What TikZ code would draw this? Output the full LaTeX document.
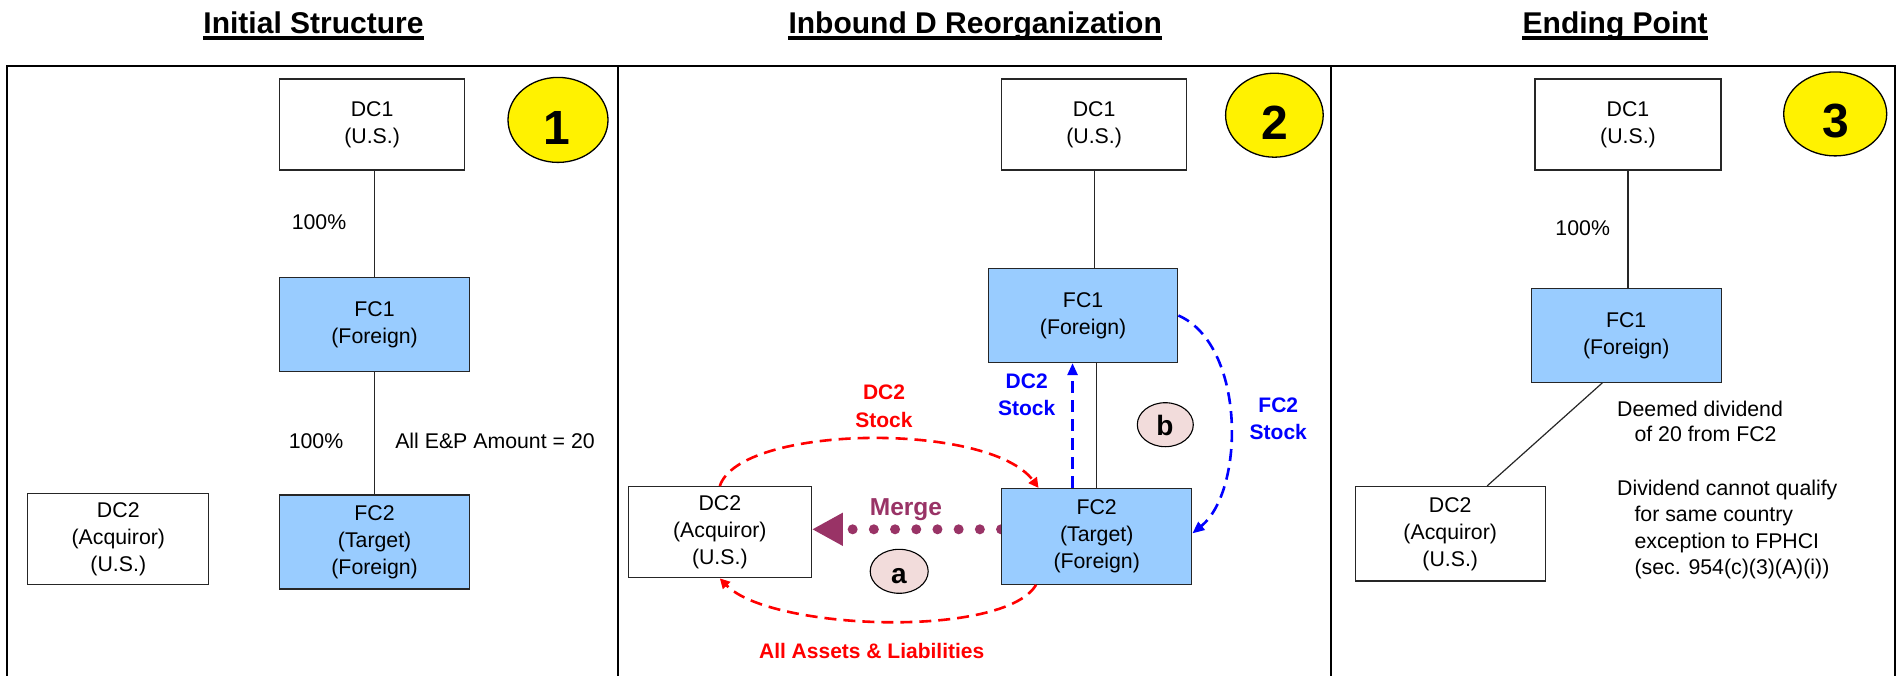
\documentclass[tikz,border=0pt]{standalone}
\usepackage{fontspec}
\setmainfont{Liberation Sans}
\usetikzlibrary{arrows.meta,calc,shapes.geometric}
\pgfdeclarelayer{background}
\pgfsetlayers{background,main}
\definecolor{boxblue}{RGB}{153,204,255}
\definecolor{mergepurple}{RGB}{153,51,102}
\definecolor{pinkfill}{RGB}{242,220,219}
\definecolor{redarrow}{RGB}{255,0,0}
\definecolor{bluearrow}{RGB}{0,0,255}
\begin{document}
\begin{tikzpicture}[x=0.5pt,y=-0.5pt,
  bodyfont/.style={font=\fontsize{10.65pt}{13.5pt}\selectfont},
  entity/.style={draw=black!85, line width=0.65pt, fill=white, inner sep=0pt, align=center, bodyfont},
  foreign/.style={entity, fill=boxblue},
  stepcircle/.style={ellipse, draw=black, line width=0.65pt, fill=yellow, inner sep=0pt},
  stepnum/.style={font=\fontsize{24pt}{24pt}\selectfont\bfseries, inner sep=0pt},
  subcircle/.style={ellipse, draw=black, line width=0.55pt, fill=pinkfill, inner sep=0pt},
  subnum/.style={font=\fontsize{14pt}{14pt}\selectfont\bfseries, inner sep=0pt},
  paneltitle/.style={font=\fontsize{15pt}{18pt}\selectfont\bfseries, inner sep=0pt, anchor=base},
  note/.style={bodyfont, inner sep=0pt},
  own/.style={line width=0.6pt, draw=black!85},
  panelframe/.style={line width=1pt, draw=black},
  redflow/.style={draw=redarrow, line width=1.3pt, dash pattern=on 6pt off 3.5pt, -{Triangle[length=5pt,width=5pt]}},
  blueflow/.style={draw=bluearrow, line width=1.3pt, dash pattern=on 6pt off 3.5pt, -{Triangle[length=6pt,width=5pt]}},
  mergeflow/.style={draw=mergepurple, line width=5pt, line cap=round, dash pattern=on 0pt off 10.6pt, -{Triangle[length=15.5pt,width=15.5pt]}},
  redlabel/.style={font=\fontsize{10.5pt}{14pt}\selectfont\bfseries, text=redarrow, align=center, inner sep=0pt},
  bluelabel/.style={font=\fontsize{10.5pt}{13.3pt}\selectfont\bfseries, text=bluearrow, align=center, inner sep=0pt},
]
\useasboundingbox (0,0) rectangle (1896,675);
% frame
\draw[panelframe] (6.7,680) -- (6.7,66) -- (1894.5,66) -- (1894.5,680);
\draw[panelframe] (618.3,66) -- (618.3,680);
\draw[panelframe] (1331,66) -- (1331,680);
% titles
\node[paneltitle] (t1) at (313.5,33.6) {Initial Structure};
\node[paneltitle] (t2) at (975.2,33.6) {Inbound D Reorganization};
\node[paneltitle] (t3) at (1615.2,33.6) {Ending Point};
\foreach \t in {t1,t2,t3} \draw[line width=1.7pt] ($(\t.base west)+(0,4.3)$) -- ($(\t.base east)+(0,4.3)$);

% ---------- panel 1
\node[entity, minimum width=92.5pt, minimum height=45.5pt] (p1dc1) at (372.1,124.6) {DC1\\(U.S.)};
\node[foreign, minimum width=95pt, minimum height=47pt] (p1fc1) at (374.6,324.6) {FC1\\(Foreign)};
\node[foreign, minimum width=95pt, minimum height=47pt] (p1fc2) at (374.6,542) {FC2\\(Target)\\(Foreign)};
\node[entity, minimum width=90.5pt, minimum height=45.5pt] (p1dc2) at (118.3,538.8) {DC2\\(Acquiror)\\(U.S.)};
\node[stepcircle, minimum width=50pt, minimum height=42.5pt] (p1c) at (558,119.9) {};
\node[stepnum] (p1n) at (556.5,127.6) {1};
\node[note] (p1o1) at (319,222) {100\%};
\node[note] (p1o2) at (316,441) {100\%};
\node[note] (p1ep) at (495,441) {All E\&P Amount = 20};
\draw[own] (p1fc1.north |- p1dc1.south) -- (p1fc1.north);
\draw[own] (p1fc1.south) -- (p1fc2.north);

% ---------- panel 2
\node[entity, minimum width=92.3pt, minimum height=45.5pt] (p2dc1) at (1094.1,124.6) {DC1\\(U.S.)};
\node[foreign, minimum width=94.7pt, minimum height=47pt] (p2fc1) at (1083.1,315.5) {FC1\\(Foreign)};
\node[foreign, minimum width=95pt, minimum height=47.8pt] (p2fc2) at (1096.7,536.4) {FC2\\(Target)\\(Foreign)};
\node[entity, minimum width=91.5pt, minimum height=45.5pt] (p2dc2) at (719.8,532.2) {DC2\\(Acquiror)\\(U.S.)};
\node[stepcircle, minimum width=48.8pt, minimum height=42pt] (p2c) at (1274.4,115.2) {};
\node[stepnum] (p2n) at (1274.9,122.7) {2};
\node[subcircle, minimum width=29pt, minimum height=22pt] (ca) at (899.2,571.3) {};
\node[subnum] (can) at (899,576) {a};
\node[subcircle, minimum width=28pt, minimum height=22pt] (cb) at (1165.3,424.7) {};
\node[subnum] (cbn) at (1165,425.8) {b};
\draw[own] (p2dc1.south) -- (p2dc1.south |- p2fc1.north);
\draw[own] (p2fc2.north) -- (p2fc2.north |- p2fc1.south);

\node[redlabel] (rl1) at (884,406.7) {DC2\\Stock};
\node[bluelabel] (bl1) at (1026.7,395) {DC2\\Stock};
\node[bluelabel] (bl2) at (1278.3,418.8) {FC2\\Stock};
\node[font=\fontsize{12.25pt}{14pt}\selectfont\bfseries, text=mergepurple, inner sep=0pt, anchor=base] (ml) at (906,515.7) {Merge};
\node[redlabel, anchor=base] (rl2) at (871.7,658.3) {All Assets \& Liabilities};

\coordinate (redtopend) at ($(p2fc2.north west)+(37.5,0)$);
\draw[redflow] (p2dc2.north) .. controls +(20.2,-61.7) and +(-49.3,-66.6) .. (redtopend);
\coordinate (redbotstart) at ($(p2fc2.south west)+(35,0)$);
\draw[redflow] (redbotstart) .. controls +(-31.8,53.8) and +(50.2,52.3) .. (p2dc2.south);
\coordinate (bluestart) at ($(p2fc2.north west)+(71.5,0)$);
\draw[blueflow] (bluestart) -- (bluestart |- p2fc1.south);
\coordinate (blueend) at ($(p2fc2.east)+(0,-3)$);
\draw[blueflow] (p2fc1.east) .. controls +(67,29.5) and +(53,-43.4) .. (blueend);
\begin{pgfonlayer}{background}
\coordinate (mstart) at ($(p2fc2.west)+(0,-7.1)$);
\draw[mergeflow] (mstart) -- (mstart -| p2dc2.east);
\end{pgfonlayer}

% ---------- panel 3
\node[entity, minimum width=93pt, minimum height=45.5pt] (p3dc1) at (1628,124.6) {DC1\\(U.S.)};
\node[foreign, minimum width=95pt, minimum height=47pt] (p3fc1) at (1626.2,335.3) {FC1\\(Foreign)};
\node[entity, minimum width=95pt, minimum height=47.3pt] (p3dc2) at (1450.2,533.8) {DC2\\(Acquiror)\\(U.S.)};
\node[stepcircle, minimum width=51.5pt, minimum height=42pt] (p3c) at (1835.2,113.9) {};
\node[stepnum] (p3n) at (1836,121) {3};
\node[note] (p3o1) at (1582.7,227.7) {100\%};
\draw[own] (p3dc1.south) -- (p3dc1.south |- p3fc1.north);
\draw[own] ($(p3fc1.south west)+(71.7,0)$) -- ($(p3dc2.north)+(37,0)$);
\node[note, anchor=base west] (d1) at (1616.8,416.7) {Deemed dividend};
\node[note, anchor=base west] (d2) at (1634.1,441.2) {of 20 from FC2};
\node[note, anchor=base west] (d3) at (1616.8,495) {Dividend cannot qualify};
\node[note, anchor=base west] (d4) at (1634.1,521.7) {for same country};
\node[note, anchor=base west] (d5) at (1634.1,548.8) {exception to FPHCI};
\node[note, anchor=base west] (d6) at (1634.1,574.7) {(sec. 954(c)(3)(A)(i))};
\end{tikzpicture}
\end{document}
